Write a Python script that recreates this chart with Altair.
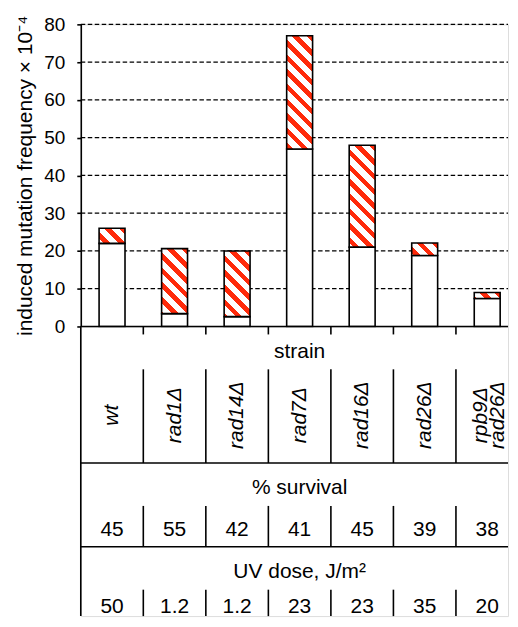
import altair as alt
import pandas as pd

# ---------------- data ----------------
strains = ["wt", "rad1Δ", "rad14Δ", "rad7Δ", "rad16Δ", "rad26Δ", "rpb9Δ\nrad26Δ"]
lower_part = [22, 3.4, 2.6, 47, 21, 18.8, 7.4]      # white (open) segment
bar_total = [26, 20.6, 20, 77, 48, 22.1, 9]          # top of the hatched segment
survival = ["45", "55", "42", "41", "45", "39", "38"]
uv_dose = ["50", "1.2", "1.2", "23", "23", "35", "20"]
y_ticks = [0, 10, 20, 30, 40, 50, 60, 70, 80]

# ---------------- layout / style ----------------
W = 428.5        # visible plot width (to the page edge)
XR = 439         # full band range (7 columns, last one runs to the page edge)
H = 303          # bar plot height
HT = 290.5       # table height
BAR = 26         # bar width (px)
RED = "#ff2a0a"
FONT = "Liberation Sans"
LINE = 1.6

df = pd.DataFrame({"i": range(len(strains)), "strain": strains,
                   "lower": lower_part, "total": bar_total,
                   "survival": survival, "uv": uv_dose})
grid_df = pd.DataFrame({"v": y_ticks[1:]})


def hatch(h, w=BAR, period=14.7, frac=0.45):
    """45-degree red/white stripes for a bar segment of w x h pixels."""
    d = w + h
    t = d / (w * w + h * h)
    q = period / d
    stops, k = [], 0
    while k * q < 1:
        a = round(k * q, 5)
        b = round(min(k * q + frac * q, 1), 5)
        c = round(min((k + 1) * q, 1), 5)
        stops += [{"offset": a, "color": RED}, {"offset": b, "color": RED},
                  {"offset": b, "color": "white"}, {"offset": c, "color": "white"}]
        k += 1
    return {"gradient": "linear", "x1": 1, "y1": 0,
            "x2": round(1 - t * w, 5), "y2": round(t * h, 5), "stops": stops}


px_per_unit = H / 80.0
conds = [{"test": f"datum.i === {i}",
          "value": hatch((bar_total[i] - lower_part[i]) * px_per_unit)}
         for i in range(len(strains))]

xscale = alt.Scale(domain=strains, range=[0, XR], paddingInner=0, paddingOuter=0)
yscale = alt.Scale(domain=[0, 80], nice=False, zero=True)

xb = alt.X("strain:N", sort=strains, scale=xscale, axis=None)

yaxis = alt.Axis(values=y_ticks, title="induced mutation frequency × 10⁻⁴",
                 titleFontSize=21, titleFontWeight="normal", titleColor="black",
                 titlePadding=8, labelFontSize=19, labelColor="black",
                 labelPadding=12, tickSize=4, tickColor="black", tickWidth=LINE,
                 domainColor="black", domainWidth=LINE, grid=False)

gridlines = alt.Chart(grid_df).mark_rule(
    color="black", strokeWidth=1.3, strokeDash=[4.5, 2.5]).encode(
    y=alt.Y("v:Q", scale=yscale, axis=yaxis), x=alt.value(0), x2=alt.value(W))

lower_bars = alt.Chart(df).mark_bar(size=BAR, fill="white", stroke="black",
                                    strokeWidth=LINE).encode(
    x=xb, y=alt.Y("lower:Q", scale=yscale, axis=yaxis))

upper_bars = alt.Chart(df).mark_bar(size=BAR, stroke="black",
                                    strokeWidth=LINE).encode(
    x=xb, y=alt.Y("lower:Q", scale=yscale, axis=yaxis), y2="total:Q",
    fill=alt.FillValue("white", condition=conds))

bars = alt.layer(gridlines, lower_bars, upper_bars).properties(width=W, height=H)

# ---------------- table below ----------------
ysc_t = alt.Scale(domain=[HT, 0], nice=False, zero=False)


def yt(f):
    return alt.Y(f + ":Q", scale=ysc_t, axis=None)


xt_edge = alt.X("strain:N", sort=strains, scale=xscale, bandPosition=0, axis=None)
xt_mid = alt.X("strain:N", sort=strains, scale=xscale, axis=None)

# vertical row spans (table layout)
row_spans = [(0, 8), (43, 137), (180, 221), (264, HT)]
sep_rows = []
for (a, b) in row_spans:
    for s in strains[1:]:
        sep_rows.append({"strain": s, "y1": a, "y2": b})
sep_rows.append({"strain": strains[0], "y1": 0, "y2": HT})
sep_df = pd.DataFrame(sep_rows)

separators = alt.Chart(sep_df).mark_rule(color="black", strokeWidth=LINE).encode(
    x=xt_edge, y=yt("y1"), y2="y2:Q")

# x axis line (top of table) and the two row dividers
hl_df = pd.DataFrame({"y": [0, 137, 221]})
hlines = alt.Chart(hl_df).mark_rule(color="black", strokeWidth=LINE).encode(
    y=yt("y"), x=alt.value(0), x2=alt.value(W))

hdr_df = pd.DataFrame({"label": ["strain", "% survival", "UV dose, J/m²"],
                       "y": [26, 162, 246]})
headers = alt.Chart(hdr_df).mark_text(fontSize=21, color="black").encode(
    x=alt.value(XR / 2), y=yt("y"), text="label:N")

strain_single = alt.Chart(df).transform_filter("datum.i < 6").transform_calculate(
    ypos="89").mark_text(
    fontSize=21, fontStyle="italic", angle=270, color="black").encode(
    x=xt_mid, y=yt("ypos"), text="strain:N")

strain_double = alt.Chart(df).transform_filter("datum.i === 6").transform_calculate(
    ypos="89").mark_text(
    fontSize=21, fontStyle="italic", angle=270, lineBreak="\n", lineHeight=17,
    dy=-6, color="black").encode(x=xt_mid, y=yt("ypos"), text="strain:N")

surv_txt = alt.Chart(df).transform_calculate(ypos="204").mark_text(
    fontSize=21, color="black").encode(x=xt_mid, y=yt("ypos"), text="survival:N")

uv_txt = alt.Chart(df).transform_calculate(ypos="281.5").mark_text(
    fontSize=21, color="black").encode(x=xt_mid, y=yt("ypos"), text="uv:N")

table = alt.layer(separators, hlines, headers, strain_single, strain_double,
                  surv_txt, uv_txt).properties(width=W, height=HT)

chart = alt.vconcat(bars, table, spacing=0, bounds="flush").properties(
    padding={"left": 6, "top": 5.5, "right": 0, "bottom": 0}
).configure_view(stroke=None).configure(font=FONT)

chart.save("out.html", embed_options={"renderer": "svg", "actions": False})
